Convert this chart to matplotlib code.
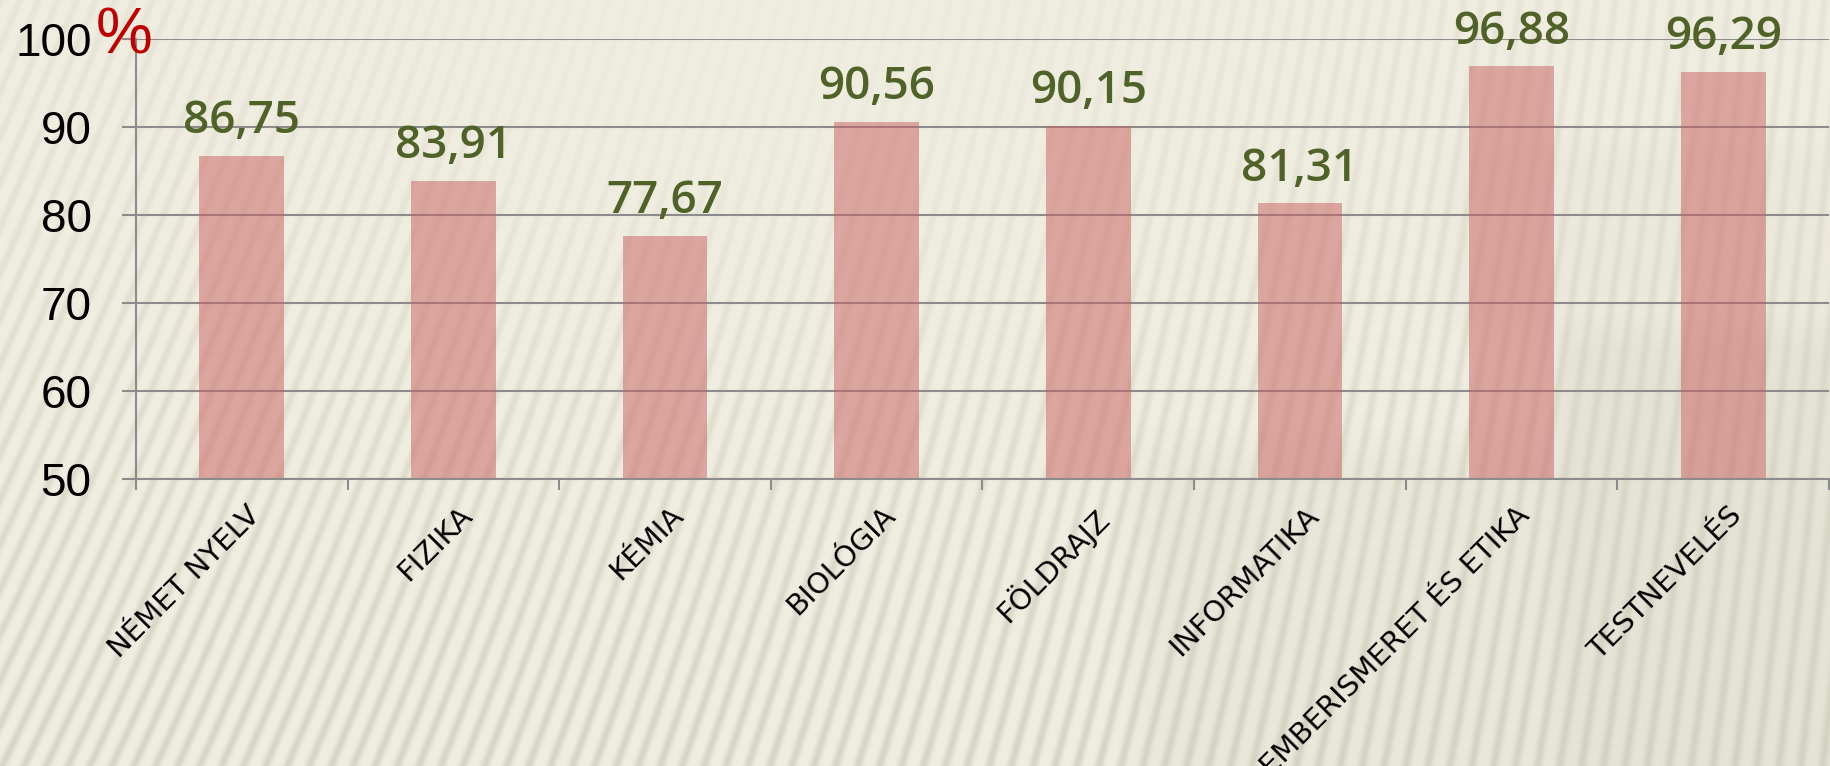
import numpy as np
import matplotlib
matplotlib.use('Agg')
import matplotlib.pyplot as plt
from matplotlib.ticker import FixedLocator

# Data
categories = ['NÉMET NYELV', 'FIZIKA', 'KÉMIA', 'BIOLÓGIA', 'FÖLDRAJZ',
              'INFORMATIKA', 'EMBERISMERET ÉS ETIKA', 'TESTNEVELÉS']
values = [86.75, 83.91, 77.67, 90.56, 90.15, 81.31, 96.88, 96.29]
value_labels = ['86,75', '83,91', '77,67', '90,56', '90,15', '81,31', '96,88', '96,29']
y_ticks = [50, 60, 70, 80, 90, 100]

W, H = 1831, 766
fig = plt.figure(figsize=(W / 100, H / 100), dpi=100)


def soft_step(v, edge, width):
    return np.clip((v - edge) / width + 0.5, 0, 1)


# Background: beige with soft diagonal stripes (theme texture)
yy, xx = np.mgrid[0:H, 0:W].astype(float)
k = 0.42 - 0.32 * (xx / W)
phase = 2 * np.pi * (xx + k * yy) / 19.0
stripe = (0.5 + 0.5 * np.cos(phase)) ** 2.2
amp = 0.25 + 0.45 * (yy / H) ** 1.2
amp *= 1 - 0.75 * np.exp(-((xx - 750) / 450) ** 2 - (yy / 300) ** 2)
shade = (0.28 * soft_step(xx, 1555, 30) * soft_step(yy, 330, 40)
         + 0.16 * soft_step(xx, 1140, 60) * soft_step(yy, 450, 60) * (1 - soft_step(xx, 1555, 30))
         + 0.10 * soft_step(xx, 1450, 60) * soft_step(yy, 140, 40) * (1 - soft_step(yy, 330, 40)))
base = np.array([0.941, 0.931, 0.882])
dark = np.array([0.80, 0.79, 0.72])
mix = np.clip(amp * stripe * (1 - shade) + shade, 0, 1)[..., None]
bg_img = base * (1 - mix) + dark * mix
bg = fig.add_axes([0, 0, 1, 1], zorder=-10)
bg.imshow(bg_img, aspect='auto', interpolation='bilinear')
bg.axis('off')

ax = fig.add_axes([136 / W, 1 - 479 / H, (1829 - 136) / W, (479 - 39) / H])
ax.patch.set_alpha(0)

x = np.arange(len(categories))
ax.bar(x, [v - 50 for v in values], bottom=50, width=0.4,
       color='#C9605F', alpha=0.5, zorder=2)

grid_col = '#8C8C8C'
ax.set_xlim(-0.5, len(categories) - 0.5)
ax.set_ylim(50, 100)
ax.set_yticks(y_ticks)
ax.yaxis.grid(True, color=grid_col, linewidth=1.5, zorder=1)
ax.set_axisbelow(True)
for s in ['top', 'right']:
    ax.spines[s].set_visible(False)
for s in ['left', 'bottom']:
    ax.spines[s].set_color(grid_col)
    ax.spines[s].set_linewidth(1.5)

ax.tick_params(axis='y', length=10, width=1.5, color=grid_col, pad=22,
               labelsize=33)
for t in ax.get_yticklabels():
    t.set_fontfamily('Liberation Sans')

ax.set_xticks(x + 0.02)
ax.set_xticklabels(categories, rotation=45, ha='right', va='top',
                   rotation_mode='anchor', fontsize=21, family='DejaVu Sans')
ax.tick_params(axis='x', which='major', length=0, pad=16)
ax.xaxis.set_minor_locator(FixedLocator(np.arange(-0.5, len(categories), 1.0)))
ax.tick_params(axis='x', which='minor', length=8, width=1.5, color=grid_col)

for xi, v, lab in zip(x, values, value_labels):
    ax.annotate(lab, (xi, v), xytext=(0, 16.5), textcoords='offset points',
                ha='center', va='baseline', fontsize=33, color='#4F6228',
                family='Open Sans', fontweight='semibold', annotation_clip=False)

fig.text(124 / W, 1 - 36 / H, '%', color='#C00000', fontsize=46,
         family='Liberation Sans', ha='center', va='center')

fig.savefig('out.png', dpi=100)
